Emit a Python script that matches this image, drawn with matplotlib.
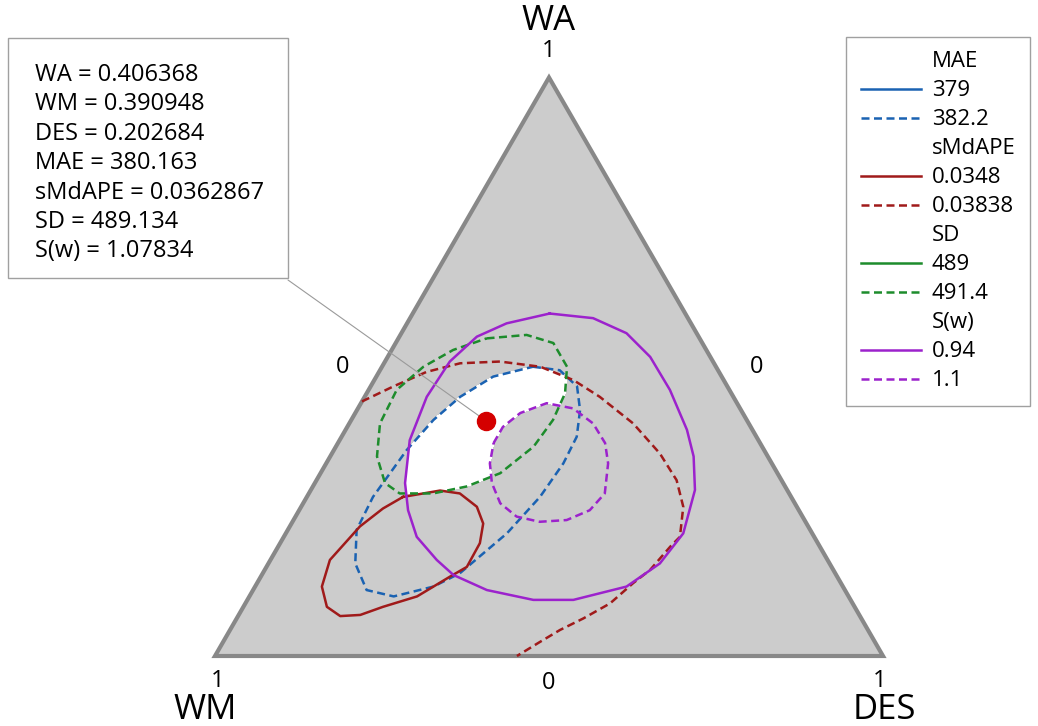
import numpy as np
import matplotlib
matplotlib.use('Agg')
import matplotlib.pyplot as plt
from matplotlib.path import Path
from matplotlib.lines import Line2D
from matplotlib.patches import Polygon, Rectangle

plt.rcParams['font.family'] = ['Open Sans', 'DejaVu Sans']

# optimal blend and its predicted responses
OPT_WA = 0.406368
OPT_WM = 0.390948
OPT_DES = 0.202684
OPT_LINES = ['WA = 0.406368', 'WM = 0.390948', 'DES = 0.202684', 'MAE = 380.163',
             'sMdAPE = 0.0362867', 'SD = 489.134', 'S(w) = 1.07834']

# contour traces as (WA, DES) pairs, WM = 1 - WA - DES
mae_382 = [(0.500, 0.226), (0.494, 0.269), (0.466, 0.309), (0.425, 0.334), (0.379, 0.352),
           (0.333, 0.355), (0.275, 0.349), (0.212, 0.331), (0.143, 0.295), (0.120, 0.267),
           (0.103, 0.216), (0.114, 0.170), (0.160, 0.130), (0.218, 0.103), (0.275, 0.099),
           (0.356, 0.109), (0.408, 0.123), (0.448, 0.143), (0.483, 0.175)]
smd_0348 = [(0.275, 0.144), (0.286, 0.194), (0.281, 0.226), (0.258, 0.263), (0.229, 0.287),
            (0.195, 0.299), (0.154, 0.300), (0.137, 0.283), (0.103, 0.251), (0.085, 0.209),
            (0.071, 0.182), (0.069, 0.153), (0.085, 0.125), (0.120, 0.100), (0.166, 0.089),
            (0.224, 0.105), (0.255, 0.124)]
smd_03838 = [(0.440, 0.000), (0.466, 0.034), (0.491, 0.071), (0.506, 0.114), (0.509, 0.172),
             (0.500, 0.237), (0.477, 0.298), (0.448, 0.352), (0.402, 0.425), (0.350, 0.491),
             (0.304, 0.539), (0.258, 0.572), (0.206, 0.593), (0.189, 0.587), (0.149, 0.577),
             (0.126, 0.563), (0.091, 0.546), (0.065, 0.519), (0.045, 0.494), (0.024, 0.474),
             (0.000, 0.452)]
sd_4914 = [(0.549, 0.132), (0.555, 0.189), (0.541, 0.236), (0.500, 0.277), (0.454, 0.297),
           (0.408, 0.302), (0.362, 0.296), (0.316, 0.269), (0.293, 0.230), (0.281, 0.186),
           (0.281, 0.136), (0.299, 0.105), (0.345, 0.070), (0.402, 0.046), (0.460, 0.042),
           (0.500, 0.062), (0.529, 0.092)]
sw_094 = [(0.592, 0.205), (0.575, 0.149), (0.552, 0.116), (0.509, 0.097), (0.448, 0.093),
          (0.373, 0.105), (0.299, 0.135), (0.252, 0.163), (0.206, 0.199), (0.166, 0.249),
          (0.140, 0.287), (0.114, 0.350), (0.097, 0.428), (0.097, 0.488), (0.120, 0.556),
          (0.160, 0.586), (0.212, 0.595), (0.287, 0.575), (0.345, 0.544), (0.391, 0.511),
          (0.460, 0.451), (0.517, 0.393), (0.558, 0.337), (0.584, 0.274)]
sw_11 = [(0.368, 0.233), (0.396, 0.233), (0.420, 0.247), (0.437, 0.278), (0.428, 0.322),
         (0.402, 0.365), (0.368, 0.400), (0.333, 0.422), (0.281, 0.443), (0.252, 0.435),
         (0.235, 0.409), (0.232, 0.370), (0.241, 0.331), (0.264, 0.295), (0.299, 0.265),
         (0.333, 0.245)]

BLUE = '#1a62b2'
RED = '#a01a1a'
GREEN = '#1d8c2c'
PURPLE = '#9c22cc'
DASH = (0, (3.2, 1.8))
LW = 1.8


def to_xy(pts, closed=False):
    a = np.array(pts, dtype=float)
    wa, des = a[:, 0], a[:, 1]
    x = des + wa / 2
    y = wa * np.sqrt(3) / 2
    if closed:
        x = np.append(x, x[0])
        y = np.append(y, y[0])
    return x, y


fig = plt.figure(figsize=(10.38, 7.26), dpi=100)
ax = fig.add_axes([0, 0, 1, 1])
ax.set_xlim(-215 / 668, (1038 - 215) / 668)
ax.set_ylim(-70 / 668, (726 - 70) / 668)
ax.set_aspect('equal')
ax.axis('off')

# simplex
corners = [(1, 0), (0, 0), (0, 1)]   # WA, WM, DES apexes as (WA, DES)
cx, cy = to_xy(corners)
ax.add_patch(Polygon(np.c_[cx, cy], closed=True, facecolor='#cccccc',
                     edgecolor='#888888', lw=3, zorder=1, joinstyle='miter'))

# feasible region: inside/outside each contour
gx, gy = np.meshgrid(np.linspace(0, 1, 900), np.linspace(0, np.sqrt(3) / 2, 800))
grid = np.c_[gx.ravel(), gy.ravel()]


def inside(pts):
    x, y = to_xy(pts, closed=True)
    return Path(np.c_[x, y]).contains_points(grid)


ok = inside(corners)
ok &= inside(mae_382)
ok &= inside(sd_4914)
ok &= inside(sw_094)
ok &= ~inside(sw_11)
ok &= ~inside(smd_0348)
ok &= inside(smd_03838 + [(0.0, 0.0)])
ax.contourf(gx, gy, ok.reshape(gx.shape).astype(float), levels=[0.5, 1.5],
            colors='white', zorder=2)

# contour lines
curves = [(mae_382, BLUE, DASH, True), (smd_0348, RED, '-', True),
          (smd_03838, RED, DASH, False), (sd_4914, GREEN, DASH, True),
          (sw_094, PURPLE, '-', True), (sw_11, PURPLE, DASH, True)]
for pts, col, ls, closed in curves:
    x, y = to_xy(pts, closed)
    ax.plot(x, y, color=col, ls=ls, lw=LW, zorder=3)

# optimum point and its info box
px, py = to_xy([(OPT_WA, OPT_DES)])
ax.plot(px, py, 'o', color='#d40000', ms=13, zorder=6)
ax.add_patch(Rectangle((8 / 1038, 1 - 278 / 726), 280 / 1038, 240 / 726,
                       transform=fig.transFigure, facecolor='white',
                       edgecolor='#a0a0a0', lw=1, zorder=7))
fig.text(35 / 1038, 1 - 63 / 726, '\n'.join(OPT_LINES), fontsize=17,
         va='top', ha='left', linespacing=1.30, zorder=8)
ax.annotate('', xy=(px[0], py[0]), xycoords='data',
            xytext=(288 / 1038, 1 - 280 / 726), textcoords='figure fraction',
            arrowprops=dict(arrowstyle='-', color='#9a9a9a', lw=0.8,
                            shrinkA=0, shrinkB=0), zorder=5)

# vertex and edge labels
labels = [((1, 0), '1', (0, 26), 17), ((1, 0), 'WA', (0, 56), 25),
          ((0, 0), '1', (3, -25), 17), ((0, 0), 'WM', (-10, -54), 25),
          ((0, 1), '1', (-3, -25), 17), ((0, 1), 'DES', (1, -54), 25),
          ((0, 0.5), '0', (0, -27), 17), ((0.5, 0), '0', (-39, 0), 17),
          ((0.5, 0.5), '0', (41, 0), 17)]
for pt, txt, off, fs in labels:
    lx, ly = to_xy([pt])
    ax.annotate(txt, (lx[0], ly[0]), xytext=off, textcoords='offset pixels',
                ha='center', va='center', fontsize=fs)

# legend
blank = Line2D([], [], ls='none')
handles = [blank, Line2D([], [], color=BLUE, lw=LW), Line2D([], [], color=BLUE, lw=LW, ls=DASH),
           blank, Line2D([], [], color=RED, lw=LW), Line2D([], [], color=RED, lw=LW, ls=DASH),
           blank, Line2D([], [], color=GREEN, lw=LW), Line2D([], [], color=GREEN, lw=LW, ls=DASH),
           blank, Line2D([], [], color=PURPLE, lw=LW), Line2D([], [], color=PURPLE, lw=LW, ls=DASH)]
names = ['MAE', '379', '382.2', 'sMdAPE', '0.0348', '0.03838',
         'SD', '489', '491.4', 'S(w)', '0.94', '1.1']
leg = ax.legend(handles, names, loc='upper right',
                bbox_to_anchor=(1030 / 1038, 1 - 37 / 726), bbox_transform=fig.transFigure,
                fontsize=16, handlelength=2.7, handletextpad=0.5, labelspacing=0.36,
                borderpad=0.65, borderaxespad=0, fancybox=False, framealpha=1,
                edgecolor='#a0a0a0')
leg.get_frame().set_linewidth(1)

fig.savefig('out.png', dpi=100)
